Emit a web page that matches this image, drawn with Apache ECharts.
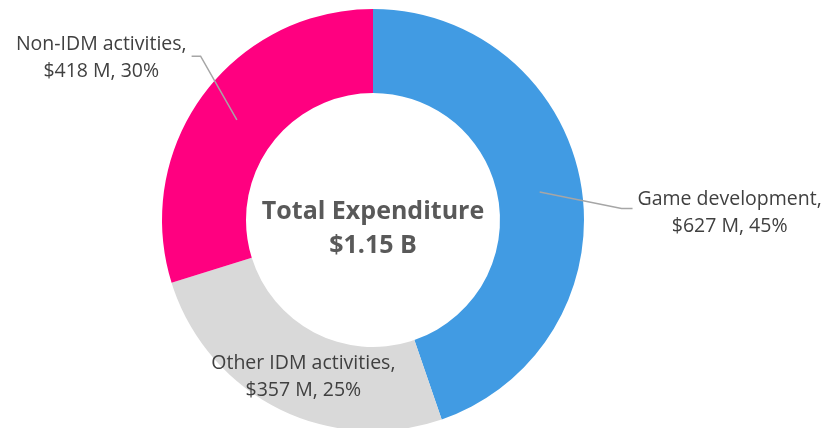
<!DOCTYPE html>
<html>
<head>
<meta charset="utf-8">
<script src="https://cdn.jsdelivr.net/npm/echarts@6/dist/echarts.min.js"></script>
<style>
  html, body { margin: 0; padding: 0; background: #fff; }
  #chart { width: 824px; height: 428px; }
</style>
</head>
<body>
<div id="chart"></div>
<script>
// data
var categories = ['Game development', 'Other IDM activities', 'Non-IDM activities'];
var amounts = [627, 357, 418];          // $ M
var colors = ['#419BE3', '#D9D9D9', '#FF0080'];
var totalLines = ['Total Expenditure', '$1.15 B'];

var CX = 373, CY = 220, R_IN = 127, R_OUT = 211;
var R_MID = (R_IN + R_OUT) / 2;
var FONT = 'Open Sans';

function labelText(p) {
    return p.name + ',\n$' + p.value + ' M, ' + p.percent + '%';
}

// slices with a leader line (others are written inside the ring)
var leader = {
    'Game development': { length: 83, length2: 11, lineShift: 30, textShift: 35 },
    'Non-IDM activities': { length: 45, length2: 9, lineShift: -37, textShift: -35 }
};

var ringData = categories.map(function (c, i) {
    return {
        name: c,
        value: amounts[i],
        itemStyle: { color: colors[i] },
        label: { show: !leader[c] }
    };
});

var guideData = categories.map(function (c, i) {
    var l = leader[c];
    return {
        name: c,
        value: amounts[i],
        label: { show: !!l },
        labelLine: l ? { show: true, length: l.length, length2: l.length2 } : { show: false }
    };
});

var textStyle = {
    fontFamily: FONT,
    fontSize: 19.5,
    lineHeight: 27,
    color: '#404040'
};

var option = {
    animation: false,
    backgroundColor: '#ffffff',
    series: [{
        type: 'pie',
        z: 1,
        center: [CX, CY],
        radius: [R_IN, R_OUT],
        startAngle: 90,
        clockwise: true,
        percentPrecision: 0,
        silent: true,
        label: Object.assign({ position: 'inside', formatter: labelText, align: 'center', offset: [8, 3] }, textStyle),
        labelLine: { show: false },
        data: ringData
    }, {
        // invisible helper pie so the leader lines start in the middle of the ring
        type: 'pie',
        z: 5,
        center: [CX, CY],
        radius: [0, R_MID],
        startAngle: 90,
        clockwise: true,
        percentPrecision: 0,
        silent: true,
        avoidLabelOverlap: false,
        itemStyle: { color: 'rgba(0,0,0,0)' },
        label: Object.assign({ position: 'outside', formatter: labelText }, textStyle),
        labelLine: { smooth: false, lineStyle: { color: '#a6a6a6', width: 1.5 } },
        labelLayout: function (p) {
            var l = leader[categories[p.dataIndex]];
            var pts = p.labelLinePoints;
            if (!l || !pts) return {};
            var s = l.lineShift;
            return {
                x: p.labelRect.x + p.labelRect.width / 2,
                y: p.labelRect.y + p.labelRect.height / 2 + l.textShift,
                align: 'center',
                verticalAlign: 'middle',
                labelLinePoints: [pts[0], [pts[1][0], pts[1][1] + s], [pts[2][0], pts[2][1] + s]]
            };
        },
        data: guideData
    }],
    graphic: [{
        type: 'text',
        x: CX,
        y: CY + 9,
        z: 10,
        silent: true,
        style: {
            text: totalLines.join('\n'),
            align: 'center',
            verticalAlign: 'middle',
            fontFamily: FONT,
            fontWeight: 'bold',
            fontSize: 25,
            lineHeight: 34,
            fill: '#595959'
        }
    }]
};

var chart = echarts.init(document.getElementById('chart'));
chart.setOption(option);
</script>
</body>
</html>
